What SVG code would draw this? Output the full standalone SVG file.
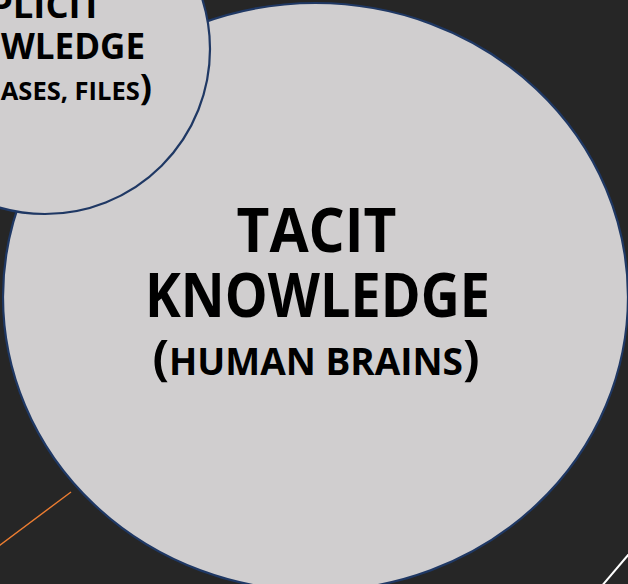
<svg xmlns="http://www.w3.org/2000/svg" width="628" height="584" viewBox="0 0 628 584">
  <style>
    .bubble { fill: #d0cecf; stroke: #1f3864; stroke-width: 2.2; }
    .t { font-family: "Open Sans", "Liberation Sans", sans-serif; font-weight: bold; fill: #000000; }
  </style>
  <rect x="0" y="0" width="628" height="584" fill="#262626"/>
  <g id="decor">
    <line x1="-10" y1="552.5" x2="71" y2="492" stroke="#ed7d31" stroke-width="1.4"/>
    <line x1="640" y1="541" x2="595" y2="594" stroke="#ffffff" stroke-width="2"/>
  </g>
  <g id="tacit">
    <ellipse class="bubble" cx="315.5" cy="297" rx="312.5" ry="294"/>
    <text class="t" x="316.5" y="251.7" font-size="61" text-anchor="middle" textLength="160" lengthAdjust="spacingAndGlyphs">TACIT</text>
    <text class="t" x="317.5" y="316.7" font-size="61" text-anchor="middle" textLength="345" lengthAdjust="spacingAndGlyphs">KNOWLEDGE</text>
    <text class="t" x="316" y="375" text-anchor="middle"><tspan font-size="49">(</tspan><tspan font-size="37">HUMAN BRAINS</tspan><tspan font-size="49">)</tspan></text>
  </g>
  <g id="explicit">
    <circle class="bubble" cx="45" cy="49" r="165"/>
    <text class="t" x="101.7" y="18.3" font-size="36.4" text-anchor="end">EXPLICIT</text>
    <text class="t" x="145" y="58.7" font-size="35" text-anchor="end">KNOWLEDGE</text>
    <text class="t" x="152" y="100" text-anchor="end"><tspan font-size="36">(</tspan><tspan font-size="25.5">DATABASES, FILES</tspan><tspan font-size="36">)</tspan></text>
  </g>
</svg>
